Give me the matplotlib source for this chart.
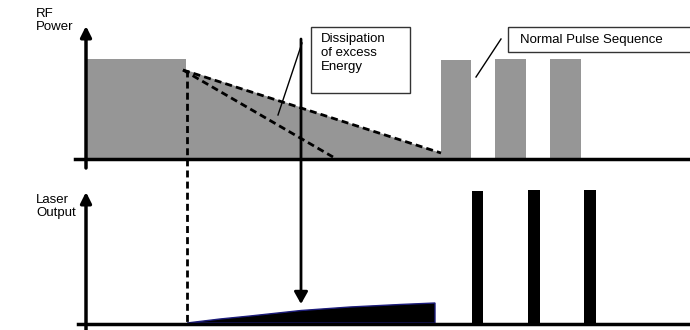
import numpy as np
import matplotlib.pyplot as plt

plt.rcParams['font.family'] = ['Liberation Sans', 'DejaVu Sans']

# positions in pixel units of the 690x330 picture (y grows downward)
rf_base = 159
laser_base = 323
axis_x = 86

# RF power: initial high level, then decaying excess
rf_step_x = [86, 186]
rf_step_top = 59
decay_start = (186, 70)
decay_end = (441, 153)
fast_decay_end = (333, 157)

# RF pulse sequence (left, right, top)
rf_pulse_left = [441, 495, 550]
rf_pulse_right = [471, 526, 581]
rf_pulse_top = [60, 59, 59]

# laser output: slow rise, then pulses
laser_rise_x = [187, 220, 250, 301, 350, 400, 435]
laser_rise_y = [323, 319, 316, 310.5, 307, 304.5, 303]
laser_pulse_left = [472, 528, 584]
laser_pulse_right = [483, 540, 596]
laser_pulse_top = [191, 190, 190]

fig = plt.figure(figsize=(6.9, 3.3), dpi=100)
ax = fig.add_axes([0, 0, 1, 1])
ax.set_xlim(0, 690)
ax.set_ylim(330, 0)
ax.axis('off')

gray = '#969696'

# top panel fills
ax.fill_between(rf_step_x, rf_step_top, rf_base, color=gray, lw=0)
ax.fill([decay_start[0], decay_end[0], decay_end[0], decay_start[0]],
        [decay_start[1], decay_end[1], rf_base, rf_base], color=gray, lw=0)
for l, r, t in zip(rf_pulse_left, rf_pulse_right, rf_pulse_top):
    ax.fill_between([l, r], t, rf_base, color=gray, lw=0)

# dashed decay lines
dash = (0, (2.5, 1.5))
ax.plot([decay_start[0] - 3, decay_end[0]], [decay_start[1], decay_end[1]],
        color='black', lw=2, ls=dash)
ax.plot([decay_start[0] - 3, fast_decay_end[0]], [decay_start[1], fast_decay_end[1]],
        color='black', lw=2, ls=dash)
ax.plot([187, 187], [decay_start[1], laser_base], color='black', lw=2, ls=dash)

# bottom panel fills
ax.fill(laser_rise_x + [laser_rise_x[-1], laser_rise_x[0]],
        laser_rise_y + [laser_base, laser_base],
        facecolor='black', edgecolor='#1c1c7a', lw=1)
for l, r, t in zip(laser_pulse_left, laser_pulse_right, laser_pulse_top):
    ax.fill_between([l, r], t, laser_base, color='black', lw=0)

# baselines
ax.plot([75, 690], [rf_base, rf_base], color='black', lw=2.5)
ax.plot([78, 690], [laser_base + 1, laser_base + 1], color='black', lw=2.5)

# axis arrows
arrow = dict(arrowstyle='-|>,head_length=0.8,head_width=0.4', color='black',
             lw=2.5, shrinkA=0, shrinkB=0, mutation_scale=8)
ax.annotate('', xy=(axis_x, 26), xytext=(axis_x, 168), arrowprops=arrow)
ax.annotate('', xy=(axis_x, 192), xytext=(axis_x, 332), arrowprops=arrow)

# long arrow from top to bottom panel
ax.annotate('', xy=(301, 304), xytext=(301, 39),
            arrowprops=dict(arrowstyle='-|>,head_length=0.8,head_width=0.45',
                            color='black', lw=2, shrinkA=0, shrinkB=0,
                            mutation_scale=9))

# axis labels
ax.text(36, 8, 'RF\nPower', fontsize=9.5, va='top', ha='left', linespacing=1.15)
ax.text(36, 194, 'Laser\nOutput', fontsize=9.5, va='top', ha='left', linespacing=1.15)

# callout boxes
ax.add_patch(plt.Rectangle((311, 27), 99, 66, fill=False, ec='#333333', lw=1))
ax.text(321, 33, 'Dissipation\nof excess\nEnergy', fontsize=9.5, va='top',
        ha='left', linespacing=1.2)
ax.plot([302, 278], [43, 115], color='black', lw=1)

ax.add_patch(plt.Rectangle((508, 27), 200, 25, fill=False, ec='#333333', lw=1))
ax.text(520, 40, 'Normal Pulse Sequence', fontsize=9.5, va='center', ha='left')
ax.plot([501, 476], [39, 77], color='black', lw=1)

fig.savefig('out.png', dpi=100)
